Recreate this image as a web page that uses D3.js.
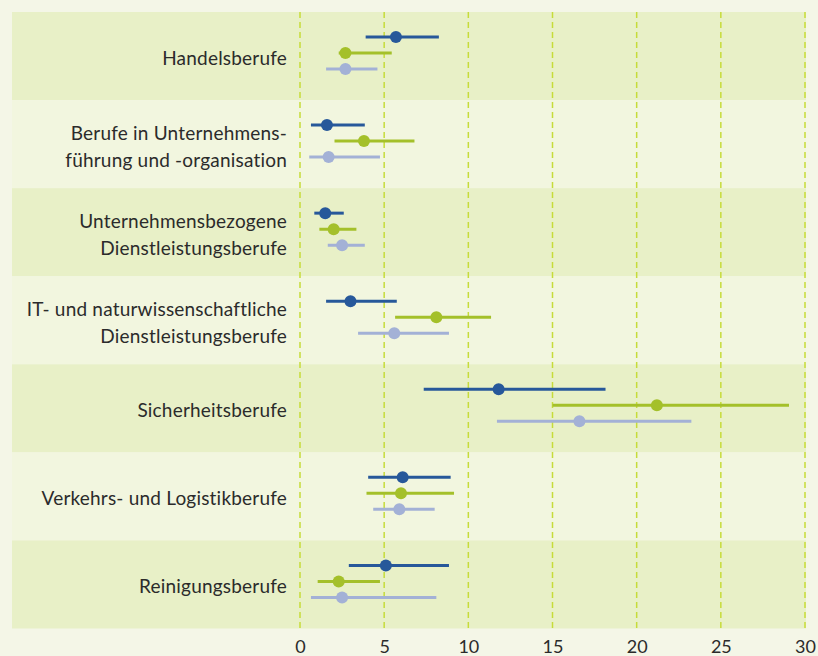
<!DOCTYPE html>
<html>
<head>
<meta charset="utf-8">
<script src="https://cdn.jsdelivr.net/npm/d3@7"></script>
<style>
    body { margin: 0; background: #f4f6e7; }
    svg { display: block; }
</style>
</head>
<body>
<script>
// Occupational groups (top to bottom), label lines
var categories = [
    ["Handelsberufe"],
    ["Berufe in Unternehmens-", "führung und -organisation"],
    ["Unternehmensbezogene", "Dienstleistungsberufe"],
    ["IT- und naturwissenschaftliche", "Dienstleistungsberufe"],
    ["Sicherheitsberufe"],
    ["Verkehrs- und Logistikberufe"],
    ["Reinigungsberufe"]
];

// three series per group: point estimate, lower and upper bound
var seriesNames = ["dunkelblau", "gruen", "hellblau"];

var blueMid   = [5.7, 1.6, 1.5, 3.0, 11.8, 6.1, 5.1];
var blueLow   = [3.9, 0.65, 0.85, 1.55, 7.35, 4.05, 2.9];
var blueHigh  = [8.25, 3.85, 2.6, 5.75, 18.15, 8.95, 8.85];

var greenMid  = [2.7, 3.8, 2.0, 8.1, 21.2, 6.0, 2.3];
var greenLow  = [2.3, 2.05, 1.15, 5.65, 15.0, 3.95, 1.05];
var greenHigh = [5.45, 6.8, 3.35, 11.35, 29.05, 9.15, 4.75];

var lightMid  = [2.7, 1.7, 2.5, 5.6, 16.6, 5.9, 2.5];
var lightLow  = [1.55, 0.55, 1.65, 3.45, 11.7, 4.35, 0.65];
var lightHigh = [4.6, 4.75, 3.85, 8.85, 23.25, 8.0, 8.1];

var xTicks = [0, 5, 10, 15, 20, 25, 30];

var width = 818;
var height = 656;

var colors = d3.scaleOrdinal()
    .domain(seriesNames)
    .range(["#27589a", "#a4c02a", "#a3b1d6"]);

// rows for each series
var rows = [];
categories.forEach(function (c, i) {
    rows.push({cat: i, s: seriesNames[0], mid: blueMid[i], low: blueLow[i], high: blueHigh[i]});
    rows.push({cat: i, s: seriesNames[1], mid: greenMid[i], low: greenLow[i], high: greenHigh[i]});
    rows.push({cat: i, s: seriesNames[2], mid: lightMid[i], low: lightLow[i], high: lightHigh[i]});
});

var svg = d3.select('body').append('svg')
    .attr('width', width)
    .attr('height', height);

var x = d3.scaleLinear()
    .domain([0, 30])
    .range([300, 805]);

var y = d3.scaleBand()
    .domain(d3.range(categories.length))
    .range([12, 628.5])
    .padding(0);

// position of each series inside a band
var sub = d3.scalePoint()
    .domain(seriesNames)
    .range([25, 57]);

// alternating bands
svg.append('g').selectAll('rect')
    .data(categories)
    .enter().append('rect')
    .attr('x', 12)
    .attr('y', function (d, i) { return y(i); })
    .attr('width', 806 - 12)
    .attr('height', y.bandwidth())
    .attr('fill', function (d, i) { return i % 2 == 0 ? "#e8f0c7" : "#f2f6df"; });

// dashed gridlines
svg.append('g').selectAll('line')
    .data(xTicks)
    .enter().append('line')
    .attr('x1', function (d) { return x(d); })
    .attr('x2', function (d) { return x(d); })
    .attr('y1', 12)
    .attr('y2', 630)
    .attr('stroke', "#c6dc3a")
    .attr('stroke-width', 1.5)
    .attr('stroke-dasharray', "6,4");

// category labels
var labels = svg.append('g').selectAll('text')
    .data(categories)
    .enter().append('text')
    .attr('text-anchor', 'end')
    .attr('font-family', 'Lato, "Open Sans", sans-serif')
    .attr('font-size', 19)
    .attr('letter-spacing', 0.2)
    .attr('fill', '#2b2b2b');

labels.each(function (d, i) {
    var t = d3.select(this);
    var mid = y(i) + y.bandwidth() / 2 + 9;
    d.forEach(function (line, j) {
        t.append('tspan')
            .attr('x', 287)
            .attr('y', mid + (j - (d.length - 1) / 2) * 27)
            .text(line);
    });
});

// x axis tick labels
var xAxis = d3.axisBottom(x)
    .tickValues(xTicks)
    .tickSize(0)
    .tickPadding(0);

var ax = svg.append('g')
    .attr('transform', 'translate(0,640)')
    .call(xAxis);
ax.select('.domain').remove();
ax.selectAll('text')
    .attr('font-family', 'Lato, "Open Sans", sans-serif')
    .attr('font-size', 18)
    .attr('fill', '#2b2b2b');

// error bars
var marks = svg.append('g');

marks.selectAll('line')
    .data(rows)
    .enter().append('line')
    .attr('x1', function (d) { return x(d.low); })
    .attr('x2', function (d) { return x(d.high); })
    .attr('y1', function (d) { return y(d.cat) + sub(d.s); })
    .attr('y2', function (d) { return y(d.cat) + sub(d.s); })
    .attr('stroke', function (d) { return colors(d.s); })
    .attr('stroke-width', 3);

marks.selectAll('circle')
    .data(rows)
    .enter().append('circle')
    .attr('cx', function (d) { return x(d.mid); })
    .attr('cy', function (d) { return y(d.cat) + sub(d.s); })
    .attr('r', 6)
    .attr('fill', function (d) { return colors(d.s); });
</script>
</body>
</html>
